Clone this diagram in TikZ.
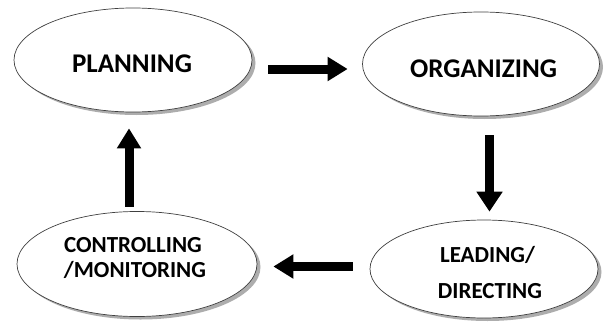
\documentclass[tikz,border=0pt]{standalone}
\usepackage{fontspec}
\setmainfont{Carlito}
\usetikzlibrary{shapes.geometric,shadows,arrows.meta}
\begin{document}
\begin{tikzpicture}[x=1pt,y=-1pt,
  oval/.style={ellipse, draw=black!75, line width=0.7pt, fill=white, inner sep=0pt,
    drop shadow={shadow xshift=3.5pt, shadow yshift=-3pt, fill=black!40, opacity=0.8}},
  bigtxt/.style={font=\bfseries\fontsize{27}{30}\selectfont, anchor=base, inner sep=0pt},
  smalltxt/.style={font=\bfseries\fontsize{23}{25}\selectfont, anchor=base, inner sep=0pt},
  flow/.style={line width=9pt, -{Triangle[width=23pt,length=20pt]}}]
\useasboundingbox (0,0) rectangle (604,329);
% ellipses
\node[oval, minimum width=238pt, minimum height=104pt] (P) at (133,60) {};
\node[oval, minimum width=237pt, minimum height=104pt] (O) at (481,64) {};
\node[oval, minimum width=228pt, minimum height=98pt] (L) at (484,269) {};
\node[oval, minimum width=240pt, minimum height=105pt] (C) at (137,264) {};
% texts
\node[bigtxt] (Pt) at (132,72) {PLANNING};
\node[bigtxt] (Ot) at (483.5,77) {ORGANIZING};
\node[smalltxt] (Ct1) at (133,252) {CONTROLLING};
\node[smalltxt] (Ct2) at (135,277) {/MONITORING};
\node[smalltxt] (Lt1) at (487.5,262) {LEADING/};
\node[smalltxt] (Lt2) at (490,298) {DIRECTING};
% arrows
\draw[flow, shorten <=16pt, shorten >=14.5pt] ([yshift=-9pt]P.east) -- ([yshift=-5pt]O.west);
\draw[flow, line width=9.5pt, -{Triangle[width=25pt,length=20pt]}, shorten <=19pt, shorten >=8pt] ([xshift=8.5pt]O.south) -- ([xshift=5.5pt]L.north);
\draw[flow, shorten <=17pt, shorten >=16pt] ([yshift=2.5pt]L.west) -- ([yshift=-2.5pt]C.east);
\draw[flow, shorten <=4.5pt, shorten >=16pt] ([xshift=-8pt]C.north) -- ([xshift=-4pt]P.south);
\end{tikzpicture}
\end{document}
